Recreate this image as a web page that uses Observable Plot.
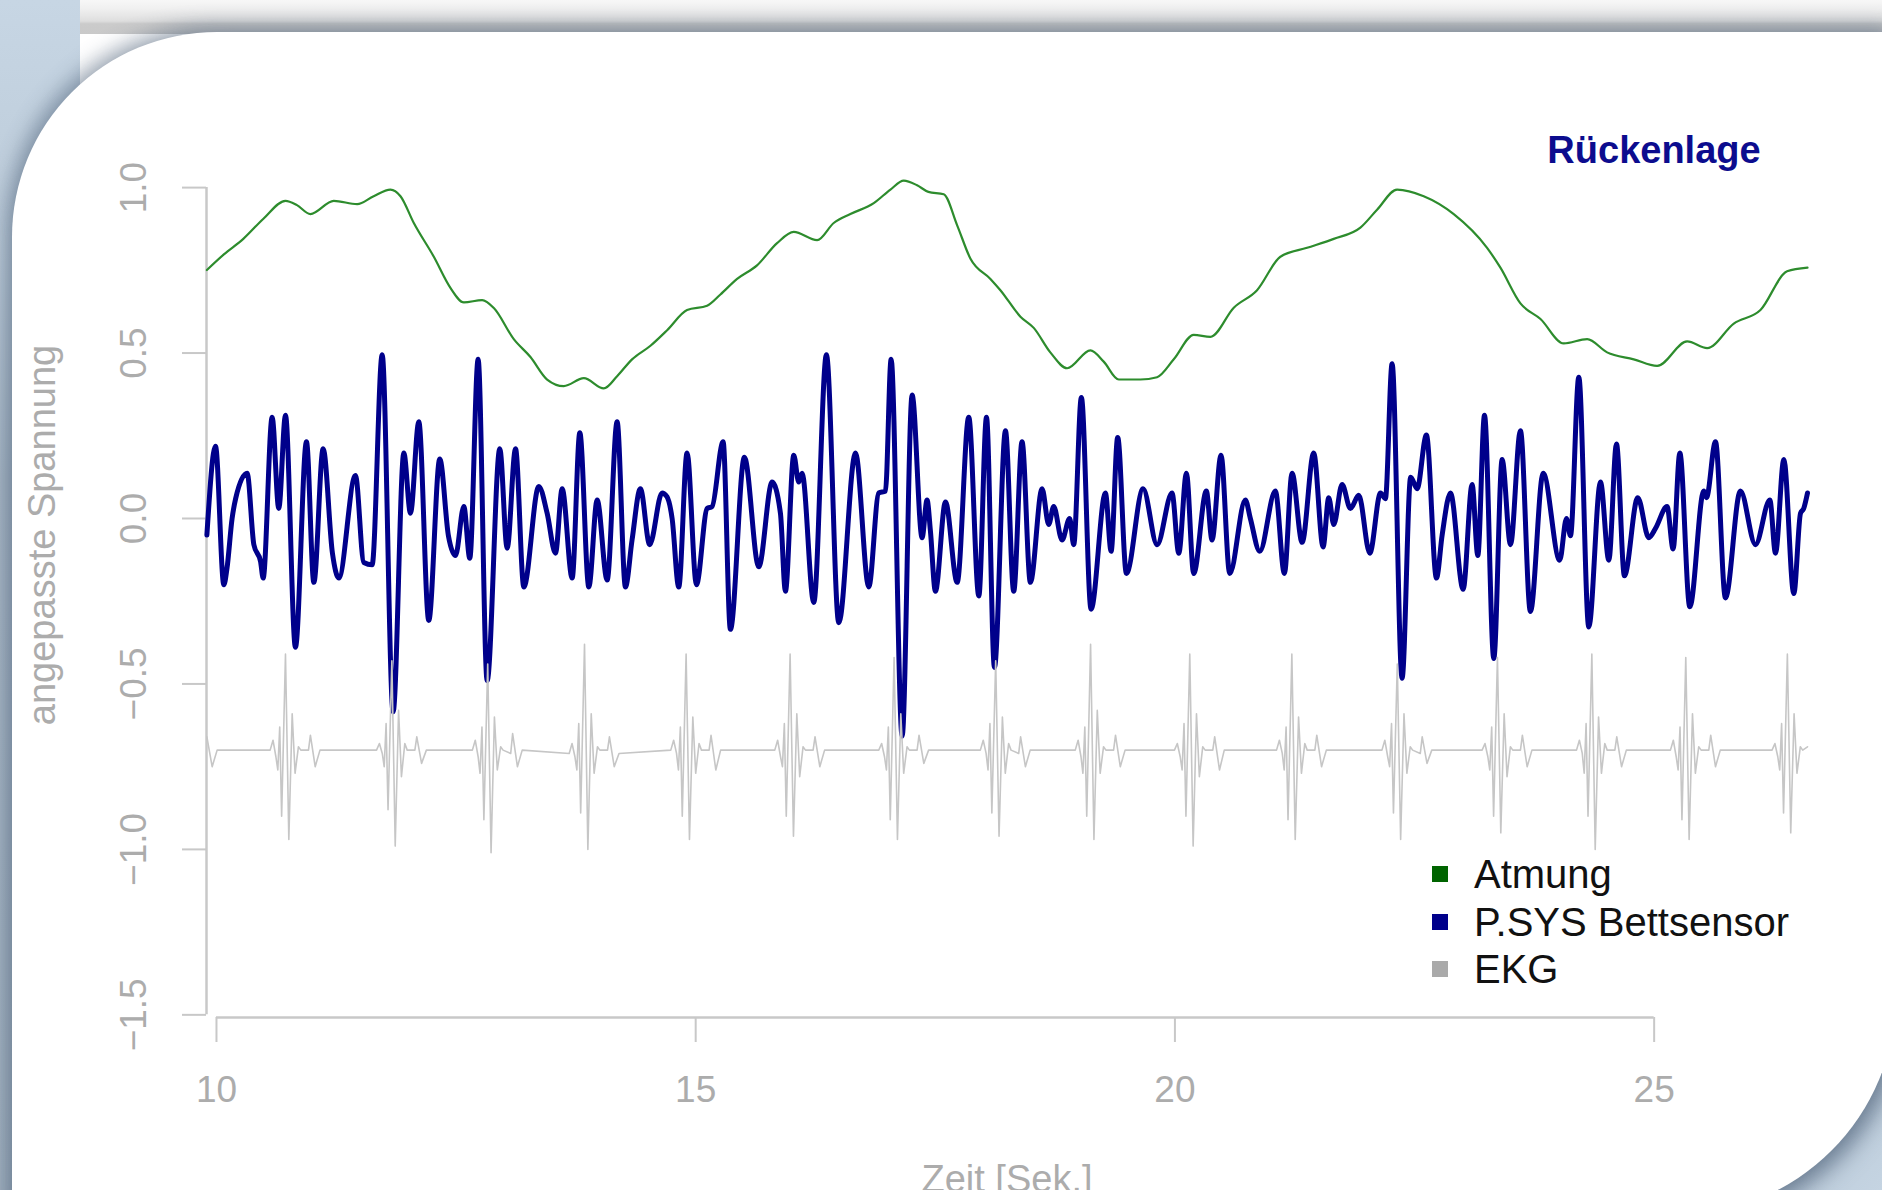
<!DOCTYPE html>
<html>
<head>
<meta charset="utf-8">
<script src="https://cdn.jsdelivr.net/npm/d3@7"></script>
<script src="https://cdn.jsdelivr.net/npm/@observablehq/plot@0.6"></script>
<style>
  html, body { margin: 0; padding: 0; }
  body { width: 1882px; height: 1190px; overflow: hidden; position: relative; background: #ffffff;
         font-family: "Liberation Sans", Arial, Helvetica, sans-serif; }
  .abs { position: absolute; }
  #leftstrip { left: 0; top: 0; width: 80px; height: 1190px;
    background: linear-gradient(to bottom, #c7d6e4 0%, #bccbd9 20%, #a9b8c7 40%, #a3b2c1 100%); }
  #topband { left: 80px; top: 0; width: 1802px; height: 34px;
    background: linear-gradient(to bottom, #f7f7f7 0%, #f0f0f0 25%, #e7e7e7 45%, #dedede 62%, #cbcbcb 70%, #c9c9c9 100%); }
  #brcorner { right: 0; bottom: 0; width: 300px; height: 300px;
    background: linear-gradient(135deg, #a6b6c6 0%, #b3c3d2 55%, #c5d4e2 100%); }
  #panel { left: 12px; top: 32px; width: 1884px; height: 1183px; background: #ffffff;
    border-top-left-radius: 205px; border-bottom-right-radius: 220px;
    box-shadow: -6px -6px 20px rgba(70, 90, 115, 0.45), 8px 8px 22px rgba(55, 75, 100, 0.55); }
  #chart { left: 0; top: 0; }
  #title { left: 1654px; top: 131px; transform: translateX(-50%); font-weight: bold; font-size: 38px;
    line-height: 38px; color: #0c0c8e; white-space: nowrap; }
  .legrow { left: 1432px; height: 48px; display: flex; align-items: center; white-space: nowrap; }
  .legsq { width: 16px; height: 16px; margin-right: 26px; }
  .legtx { font-size: 40px; line-height: 48px; color: #111111; }
</style>
</head>
<body>
<div id="leftstrip" class="abs"></div>
<div id="topband" class="abs"></div>
<div id="brcorner" class="abs"></div>
<div id="panel" class="abs"></div>
<div id="chart" class="abs"></div>
<div id="title" class="abs"></div>
<div id="legend"></div>
<script>
// ---------- data ----------
const titleText = "Rückenlage";
const xLabel = "Zeit [Sek.]";
const yLabel = "angepasste Spannung";
const xTicks = [10, 15, 20, 25];
const yTicks = [-1.5, -1, -0.5, 0, 0.5, 1];
const seriesNames = ["Atmung", "P.SYS Bettsensor", "EKG"];

// Atmung (respiration), [time s, value]
const atmung = [
  [9.90,0.751],[10.077,0.798],[10.28,0.845],[10.49,0.906],[10.72,0.96],[10.84,0.947],[10.98,0.92],
  [11.224,0.96],[11.468,0.95],[11.64,0.974],[11.815,0.994],[11.92,0.974],[12.059,0.893],[12.268,0.791],
  [12.441,0.697],[12.581,0.653],[12.772,0.66],[12.894,0.636],[13.102,0.542],[13.276,0.488],[13.45,0.42],
  [13.624,0.40],[13.833,0.424],[14.041,0.393],[14.18,0.43],[14.336,0.481],[14.528,0.522],[14.702,0.569],
  [14.91,0.63],[15.119,0.643],[15.258,0.677],[15.432,0.724],[15.64,0.765],[15.849,0.832],[16.023,0.866],
  [16.267,0.841],[16.44,0.893],[16.614,0.92],[16.858,0.953],[17.032,0.994],[17.171,1.021],[17.31,1.007],
  [17.428,0.987],[17.588,0.98],[17.728,0.886],[17.867,0.785],[18.075,0.724],[18.179,0.69],[18.388,0.61],
  [18.527,0.576],[18.70,0.502],[18.875,0.454],[19.118,0.508],[19.257,0.474],[19.414,0.42],[19.64,0.42],
  [19.814,0.427],[19.988,0.481],[20.196,0.555],[20.37,0.549],[20.614,0.637],[20.857,0.69],[21.10,0.791],
  [21.379,0.818],[21.657,0.845],[21.935,0.879],[22.109,0.933],[22.318,0.994],[22.596,0.974],[22.909,0.92],
  [23.257,0.818],[23.396,0.758],[23.605,0.65],[23.814,0.603],[24.057,0.529],[24.301,0.542],[24.509,0.502],
  [24.787,0.481],[25.031,0.461],[25.344,0.535],[25.553,0.515],[25.831,0.589],[26.109,0.63],[26.387,0.747],
  [26.60,0.758]
];

// P.SYS Bettsensor (bed sensor), [time s, value] - extrema and shoulders
const psys = [
  [9.90,-0.05],[9.99,0.218],[10.077,-0.20],[10.11,-0.15],[10.163,0.0],[10.20,0.06],[10.32,0.137],[10.39,-0.079],
  [10.46,-0.13],[10.487,-0.18],[10.581,0.306],[10.65,0.03],[10.72,0.312],[10.824,-0.389],[10.939,0.232],
  [11.016,-0.193],[11.113,0.211],[11.21,-0.105],[11.276,-0.18],[11.45,0.13],[11.537,-0.133],[11.624,-0.14],
  [11.729,0.495],[11.843,-0.584],[11.955,0.198],[12.024,0.016],[12.111,0.292],[12.215,-0.308],[12.33,0.18],
  [12.42,-0.052],[12.494,-0.112],[12.581,0.036],[12.643,-0.12],[12.73,0.481],[12.824,-0.49],[12.956,0.211],
  [13.033,-0.09],[13.12,0.211],[13.207,-0.207],[13.363,0.097],[13.45,0.016],[13.537,-0.105],[13.607,0.09],
  [13.711,-0.18],[13.791,0.259],[13.885,-0.207],[13.972,0.056],[14.076,-0.186],[14.18,0.292],
  [14.267,-0.207],[14.336,-0.065],[14.423,0.09],[14.52,-0.079],[14.649,0.077],[14.70,0.066],[14.754,0.0],
  [14.823,-0.207],[14.91,0.198],[15.008,-0.20],[15.119,0.03],[15.171,0.036],[15.286,0.232],[15.362,-0.335],
  [15.508,0.185],[15.658,-0.146],[15.797,0.11],[15.884,0.016],[15.936,-0.22],[16.023,0.191],[16.075,0.11],
  [16.11,0.137],[16.232,-0.254],[16.364,0.495],[16.493,-0.315],[16.667,0.198],[16.806,-0.207],[16.91,0.077],
  [16.98,0.083],[17.039,0.481],[17.154,-0.658],[17.258,0.373],[17.362,-0.058],[17.414,0.056],[17.449,-0.038],
  [17.501,-0.22],[17.606,0.05],[17.728,-0.193],[17.849,0.306],[17.954,-0.234],[18.034,0.306],[18.117,-0.45],
  [18.232,0.265],[18.318,-0.22],
  [18.405,0.232],[18.492,-0.193],[18.614,0.09],[18.683,-0.018],[18.735,0.036],[18.822,-0.065],[18.902,0.0],
  [18.944,-0.079],[19.024,0.366],[19.125,-0.274],[19.275,0.077],[19.334,-0.099],[19.403,0.245],[19.494,-0.166],
  [19.668,0.09],[19.814,-0.079],[19.97,0.077],[20.04,-0.105],[20.12,0.137],[20.196,-0.166],[20.328,0.083],
  [20.387,-0.065],[20.481,0.191],[20.572,-0.166],[20.735,0.056],[20.787,0.0],[20.885,-0.099],[21.048,0.083],
  [21.142,-0.166],[21.222,0.137],[21.327,-0.072],[21.448,0.198],[21.546,-0.086],[21.605,0.063],[21.657,-0.018],
  [21.744,0.103],[21.831,0.03],[21.918,0.07],[22.033,-0.105],[22.145,0.077],[22.196,0.06],[22.266,0.468],
  [22.37,-0.483],
  [22.46,0.125],[22.527,0.09],[22.624,0.252],[22.729,-0.18],[22.788,-0.05],[22.875,0.077],[23.007,-0.214],
  [23.101,0.103],[23.16,-0.112],[23.23,0.312],[23.327,-0.423],[23.414,0.178],[23.501,-0.079],[23.605,0.265],
  [23.709,-0.281],[23.842,0.137],[24.015,-0.126],[24.085,0.0],[24.127,-0.052],[24.214,0.427],[24.318,-0.328],
  [24.44,0.11],[24.527,-0.126],[24.607,0.225],[24.69,-0.173],[24.829,0.063],[24.944,-0.058],[25.014,-0.03],
  [25.135,0.036],[25.198,-0.092],[25.268,0.198],[25.372,-0.267],[25.518,0.083],[25.546,0.063],[25.64,0.232],
  [25.744,-0.24],[25.9,0.083],[26.057,-0.079],[26.207,0.056],[26.266,-0.105],[26.353,0.178],[26.457,-0.227],
  [26.527,0.016],[26.56,0.03],[26.60,0.077]
];

// EKG: R-peak times, sample time offsets around each beat, and the values read at those offsets
const ekgBeats = [10.72, 11.83, 12.83, 13.84, 14.90, 15.985, 17.07, 18.13, 19.12, 20.155, 21.22, 22.32, 23.365, 24.35, 25.33, 26.39];
const ekgOffsets = [-0.16, -0.13, -0.10, -0.08, -0.06, -0.04, 0, 0.035, 0.07, 0.10, 0.135, 0.16, 0.24, 0.26, 0.31, 0.36];
const ekgValues = [
  [-0.70,-0.67,-0.72,-0.76,-0.63,-0.90,-0.41,-0.97,-0.59,-0.77,-0.69,-0.70,-0.70,-0.655,-0.75,-0.70],
  [-0.70,-0.68,-0.71,-0.75,-0.62,-0.88,-0.43,-0.99,-0.58,-0.78,-0.68,-0.70,-0.70,-0.66,-0.74,-0.70],
  [-0.70,-0.67,-0.72,-0.77,-0.63,-0.91,-0.44,-1.01,-0.60,-0.76,-0.69,-0.70,-0.71,-0.65,-0.75,-0.70],
  [-0.71,-0.68,-0.72,-0.76,-0.62,-0.89,-0.38,-1.00,-0.59,-0.77,-0.69,-0.70,-0.70,-0.66,-0.75,-0.71],
  [-0.70,-0.67,-0.71,-0.76,-0.63,-0.90,-0.41,-0.97,-0.60,-0.77,-0.68,-0.70,-0.70,-0.655,-0.76,-0.70],
  [-0.70,-0.67,-0.72,-0.75,-0.62,-0.90,-0.41,-0.96,-0.59,-0.78,-0.69,-0.70,-0.70,-0.66,-0.75,-0.70],
  [-0.70,-0.68,-0.72,-0.76,-0.63,-0.91,-0.42,-0.97,-0.59,-0.77,-0.69,-0.70,-0.70,-0.655,-0.74,-0.70],
  [-0.70,-0.67,-0.71,-0.76,-0.62,-0.89,-0.43,-0.96,-0.60,-0.77,-0.68,-0.70,-0.71,-0.66,-0.75,-0.70],
  [-0.70,-0.67,-0.72,-0.77,-0.63,-0.90,-0.38,-0.97,-0.58,-0.77,-0.69,-0.70,-0.70,-0.655,-0.75,-0.70],
  [-0.70,-0.68,-0.72,-0.76,-0.62,-0.90,-0.41,-0.99,-0.59,-0.78,-0.69,-0.70,-0.70,-0.66,-0.76,-0.70],
  [-0.70,-0.67,-0.71,-0.76,-0.63,-0.91,-0.41,-0.97,-0.60,-0.77,-0.68,-0.70,-0.70,-0.655,-0.75,-0.70],
  [-0.70,-0.67,-0.72,-0.75,-0.62,-0.89,-0.44,-0.97,-0.59,-0.77,-0.69,-0.70,-0.71,-0.66,-0.74,-0.70],
  [-0.70,-0.68,-0.72,-0.76,-0.63,-0.90,-0.42,-0.95,-0.59,-0.78,-0.69,-0.70,-0.70,-0.655,-0.75,-0.70],
  [-0.70,-0.67,-0.71,-0.77,-0.62,-0.90,-0.41,-1.00,-0.60,-0.77,-0.68,-0.70,-0.70,-0.66,-0.75,-0.70],
  [-0.70,-0.67,-0.72,-0.76,-0.63,-0.91,-0.42,-0.97,-0.59,-0.77,-0.69,-0.70,-0.70,-0.655,-0.75,-0.70],
  [-0.70,-0.68,-0.72,-0.76,-0.62,-0.89,-0.41,-0.95,-0.59,-0.77,-0.69,-0.70]
];
const ekgStart = [[9.90,-0.66],[9.955,-0.75],[10.007,-0.70]];
const ekgEnd = [[26.60,-0.69]];

// ---------- build tables ----------
const row = (name) => ([t, v]) => ({t, v, s: name});
const atmungData = atmung.map(row("Atmung"));
const psysData = psys.map(row("P.SYS"));
const ekgPairs = [...ekgStart];
ekgBeats.forEach((r, i) => ekgValues[i].forEach((v, j) => ekgPairs.push([r + ekgOffsets[j], v])));
ekgPairs.push(...ekgEnd);
const ekgData = ekgPairs.map(row("EKG"));

// ---------- chart ----------
const colors = {atmung: "#2d8c2d", psys: "#00008b", ekg: "#c6c6c6"};
const axisColor = "#c8c8c8";
const textColor = "#acacac";
const xDomain = [9.896, 26.6];
const yDomain = [-1.508, 1.1];
const fmtY = d3.format(".1f");

const chart = Plot.plot({
  width: 1882,
  height: 1190,
  marginLeft: 206,
  marginRight: 75,
  marginTop: 154,
  marginBottom: 173,
  x: {domain: xDomain},
  y: {domain: yDomain},
  style: {background: "transparent", fontFamily: "'Liberation Sans', Arial, Helvetica, sans-serif", color: textColor, overflow: "visible"},
  marks: [
    // axis lines spanning first..last tick (R style)
    Plot.ruleX([xDomain[0]], {y1: yTicks[0], y2: yTicks[yTicks.length - 1], stroke: axisColor, strokeWidth: 2.5}),
    Plot.ruleY([yDomain[0]], {x1: xTicks[0], x2: xTicks[xTicks.length - 1], stroke: axisColor, strokeWidth: 2.5}),
    Plot.axisY({ticks: yTicks, tickSize: 24, stroke: axisColor, strokeWidth: 2, fill: "none", label: null}),
    Plot.axisX({ticks: xTicks, tickSize: 25, stroke: axisColor, strokeWidth: 2, fill: "none", label: null}),
    // tick labels
    Plot.text(yTicks, {y: d => d, frameAnchor: "left", textAnchor: "middle", lineAnchor: "middle", dx: -72, rotate: -90, text: d => fmtY(d), fontSize: 37, fill: textColor}),
    Plot.text(xTicks, {x: d => d, frameAnchor: "bottom", textAnchor: "middle", lineAnchor: "middle", dy: 73, text: d => String(d), fontSize: 37, fill: textColor}),
    // axis titles
    Plot.text([xLabel], {frameAnchor: "bottom", textAnchor: "middle", lineAnchor: "middle", dy: 162, text: d => d, fontSize: 38, fill: textColor}),
    Plot.text([yLabel], {frameAnchor: "left", textAnchor: "middle", lineAnchor: "middle", dx: -164, dy: -51, rotate: -90, text: d => d, fontSize: 38, fill: textColor}),
    // series
    Plot.line(atmungData, {x: "t", y: "v", stroke: colors.atmung, strokeWidth: 2.2, curve: "monotone-x"}),
    Plot.line(psysData, {x: "t", y: "v", stroke: colors.psys, strokeWidth: 5, curve: "monotone-x", strokeLinejoin: "round", strokeLinecap: "round"}),
    Plot.line(ekgData, {x: "t", y: "v", stroke: colors.ekg, strokeWidth: 1.6, curve: "linear"})
  ]
});
document.getElementById("chart").appendChild(chart);

// title
document.getElementById("title").textContent = titleText;

// legend
const legendColors = ["#006400", "#00008b", "#aaaaaa"];
const legendCenters = [874, 922, 969];
const legend = document.getElementById("legend");
seriesNames.forEach((name, i) => {
  const r = document.createElement("div");
  r.className = "abs legrow";
  r.style.top = (legendCenters[i] - 24) + "px";
  const sq = document.createElement("div");
  sq.className = "legsq";
  sq.style.background = legendColors[i];
  const tx = document.createElement("div");
  tx.className = "legtx";
  tx.textContent = name;
  r.appendChild(sq); r.appendChild(tx);
  legend.appendChild(r);
});
</script>
</body>
</html>
